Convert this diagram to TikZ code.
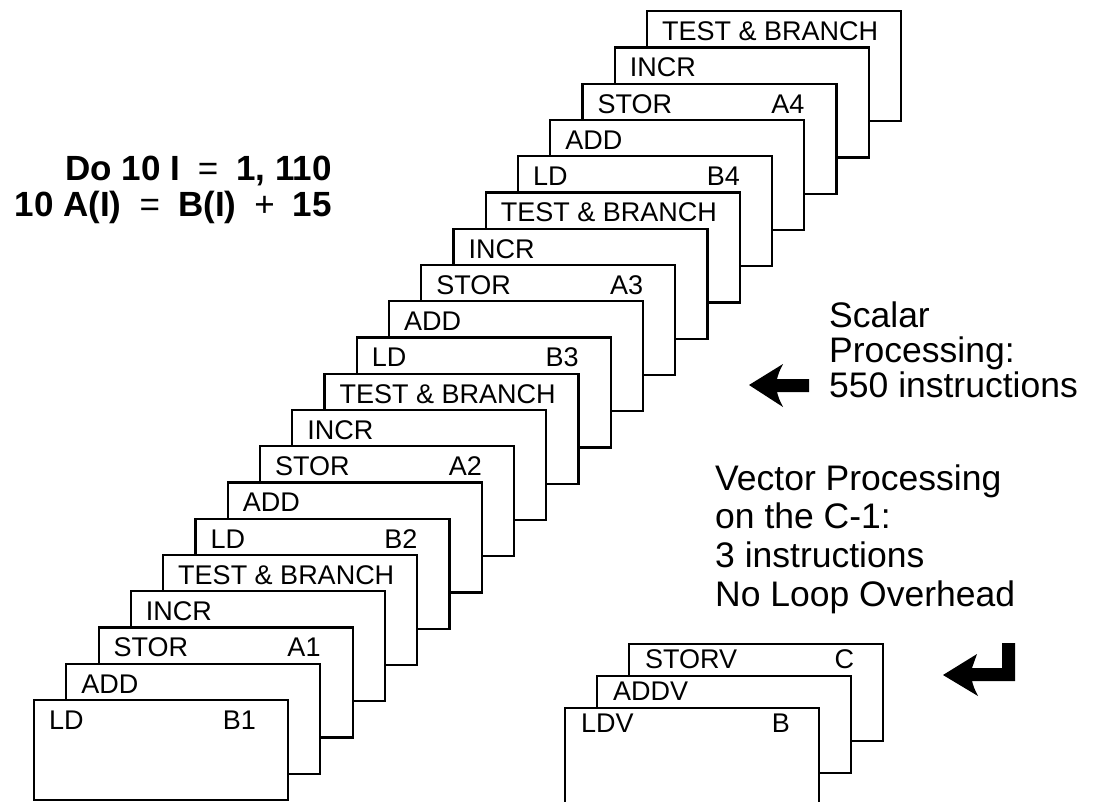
\documentclass[tikz,border=0pt]{standalone}
\usepackage{fontspec}
\setmainfont{Liberation Sans}
\begin{document}
\begin{tikzpicture}[x=1pt,y=-1pt,
  card/.style={draw, fill=white, line width=2.2pt, rectangle, inner sep=0pt,
    minimum width=254pt, minimum height=110pt, anchor=north west},
  vcard/.style={card, minimum height=97pt},
  lbl/.style={font=\fontsize{27}{30}\selectfont, inner sep=0pt},
  big/.style={font=\fontsize{35.5}{36}\selectfont, inner sep=0pt, anchor=base west},
  eq/.style={font=\fontsize{35}{36}\selectfont\bfseries, inner sep=0pt, anchor=base east},
  arrowfill/.style={fill=black, draw=none}]
\useasboundingbox (0,0) rectangle (1101,801);
\clip (0,0) rectangle (1101,801);

% scalar instruction cards
\foreach \i in {19,18,...,0}{
  \pgfmathtruncatemacro{\k}{mod(\i,5)}
  \pgfmathtruncatemacro{\g}{div(\i,5)+1}
  \pgfmathsetmacro{\h}{\i==0 ? 100 : 110}
  \node[card, minimum height=\h pt] (s\i) at ({33+32.26*\i},{699-36.26*\i}) {};
  \ifcase\k
    \node[lbl, anchor=base west] (s\i-l) at ([xshift=16pt,yshift=-30.5pt]s\i.north west) {LD};
    \node[lbl, anchor=base east] (s\i-r) at ([xshift=-33pt,yshift=-30.5pt]s\i.north east) {B\g};
  \or
    \node[lbl, anchor=base west] (s\i-l) at ([xshift=16pt,yshift=-30.5pt]s\i.north west) {ADD};
  \or
    \node[lbl, anchor=base west] (s\i-l) at ([xshift=16pt,yshift=-30.5pt]s\i.north west) {STOR};
    \node[lbl, anchor=base east] (s\i-r) at ([xshift=-33pt,yshift=-30.5pt]s\i.north east) {A\g};
  \or
    \node[lbl, anchor=base west] (s\i-l) at ([xshift=16pt,yshift=-30.5pt]s\i.north west) {INCR};
  \or
    \node[lbl, anchor=base west] (s\i-l) at ([xshift=16pt,yshift=-30.5pt]s\i.north west) {TEST \& BRANCH};
  \fi
}

% vector instruction cards
\node[vcard] (v2) at (628,643) {};
\node[lbl, anchor=base west] (v2-l) at ([xshift=17pt,yshift=-25pt]v2.north west) {STORV};
\node[lbl, anchor=base east] (v2-r) at ([xshift=-30pt,yshift=-25pt]v2.north east) {C};
\node[vcard] (v1) at (596,675) {};
\node[lbl, anchor=base west] (v1-l) at ([xshift=17pt,yshift=-25pt]v1.north west) {ADDV};
\node[vcard] (v0) at (564,707) {};
\node[lbl, anchor=base west] (v0-l) at ([xshift=17pt,yshift=-25pt]v0.north west) {LDV};
\node[lbl, anchor=base east] (v0-r) at ([xshift=-30pt,yshift=-25pt]v0.north east) {B};

% Fortran loop
\node[eq] (eq1) at (332,180) {Do 10 I\hspace{18pt}{\mdseries=}\hspace{18pt}1, 110};
\node[eq] (eq2) at (332,216) {10 A(I)\hspace{18pt}{\mdseries=}\hspace{18pt}B(I)\hspace{18pt}{\mdseries+}\hspace{18pt}15};

% scalar text and arrow
\node[big] (sc1) at (829,327) {Scalar};
\node[big] (sc2) at (829,362) {Processing:};
\node[big] (sc3) at (829,397) {550 instructions};
\fill[arrowfill] (749,385) -- (783,364) .. controls (779,372) .. (777,379)
  -- (809,379) -- (809,392) -- (777,392) .. controls (779,399) .. (783,407) -- cycle;

% vector text and arrow
\node[big] (vt1) at (715,490) {Vector Processing};
\node[big] (vt2) at (715,528.7) {on the C-1:};
\node[big] (vt3) at (715,567.3) {3 instructions};
\node[big] (vt4) at (715,606) {No Loop Overhead};
\fill[arrowfill] (943,675) -- (977,654) .. controls (974,661) .. (972,668)
  -- (1002,668) -- (1002,643) -- (1015,643) -- (1015,681) -- (972,681)
  .. controls (974,688) .. (978,696) -- cycle;
\end{tikzpicture}
\end{document}
